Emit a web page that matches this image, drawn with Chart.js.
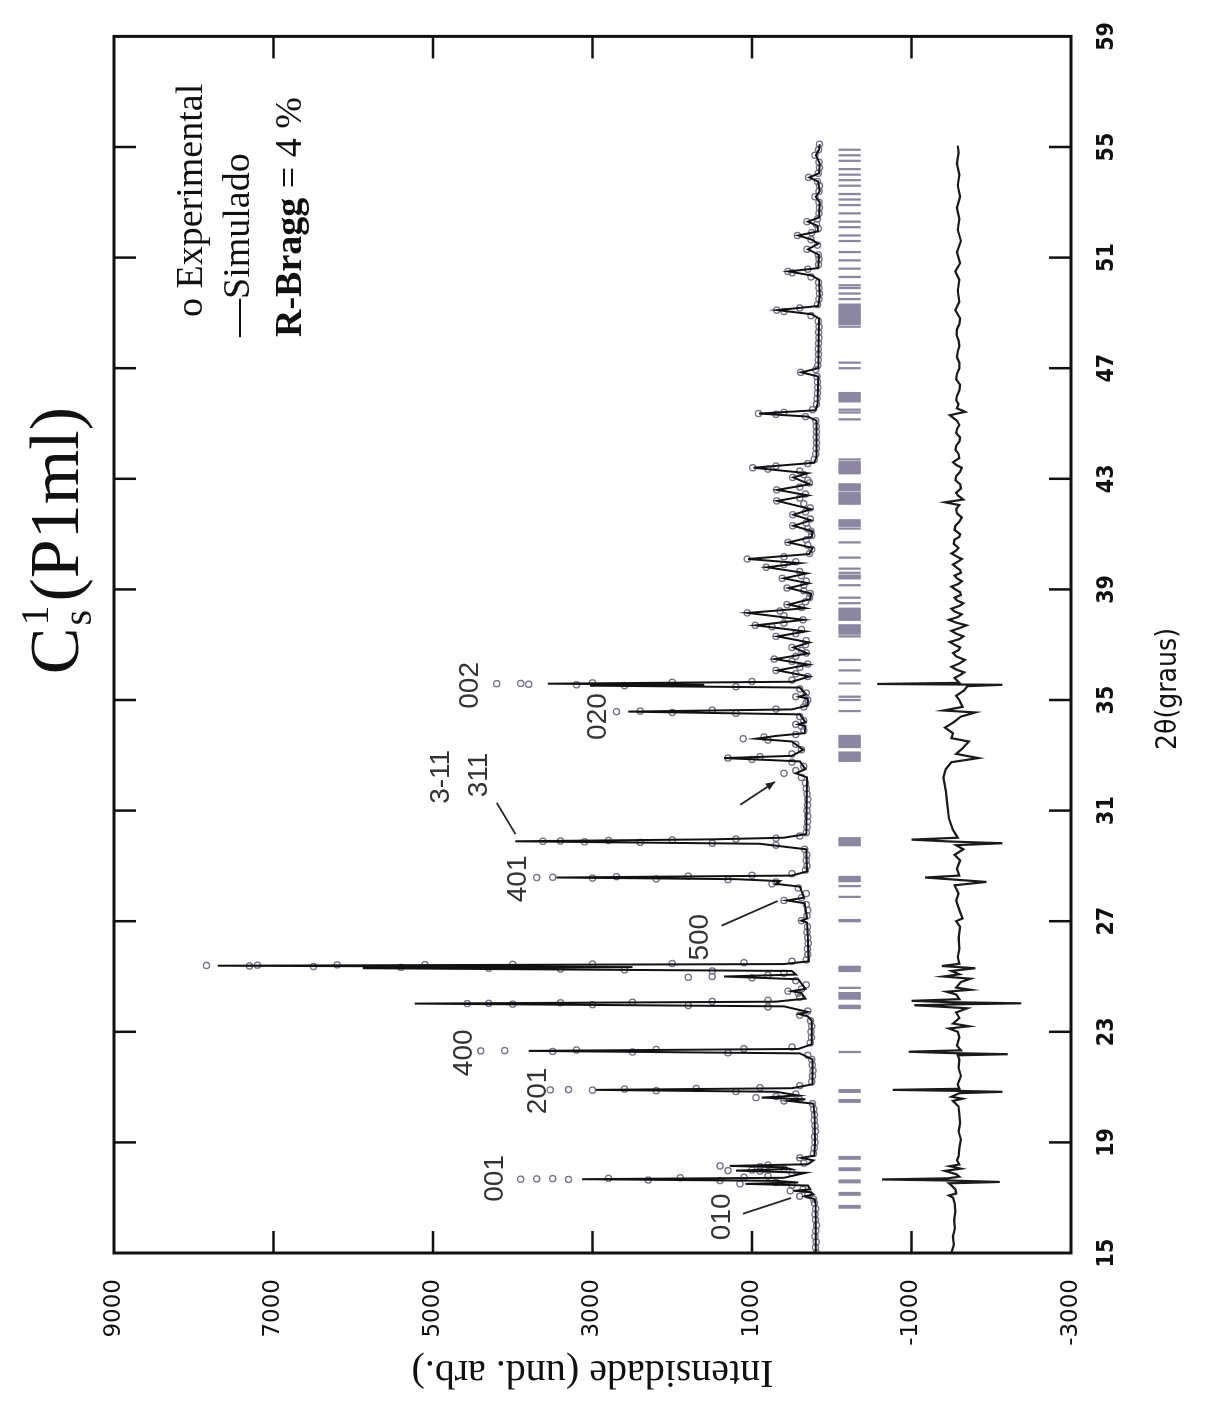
<!DOCTYPE html>
<html>
<head>
<meta charset="utf-8">
<title>Cs1 (P1ml) – refinamento</title>
<script src="https://cdn.jsdelivr.net/npm/chart.js@4.4.1/dist/chart.umd.min.js"></script>
<style>
  html, body { margin: 0; padding: 0; background: #fff; }
  body { width: 1210px; height: 1404px; position: relative; overflow: hidden; }
  /* the figure is laid out landscape and turned a quarter turn counter-clockwise */
  #stage { position: absolute; left: -97px; top: 97px; width: 1404px; height: 1210px;
           transform: rotate(-90deg); transform-origin: 50% 50%; background: #fff; }
  canvas { display: block; }
</style>
</head>
<body>
<div id="stage"><canvas id="c" width="1404" height="1210"></canvas></div>
<script>
// 2θ tick labels and intensity tick labels
const xTicks = [15, 19, 23, 27, 31, 35, 39, 43, 47, 51, 55, 59];
const yTicks = [-3000, -1000, 1000, 3000, 5000, 7000, 9000];

// observed pattern: [2θ, intensity]
const experimental = [
  [15.00,190],[15.20,205],[15.40,195],[15.60,210],[15.80,200],[16.00,190],[16.20,205],[16.40,210],[16.60,200],[16.80,215],
  [16.95,230],[17.05,400],[17.10,300],[17.25,520],[17.30,360],[17.45,500],[17.50,1150],[17.55,700],
  [17.62,1400],[17.64,2300],[17.66,3300],[17.67,3900],[17.68,3700],[17.69,3500],[17.70,2800],[17.72,1900],[17.74,1100],[17.78,800],
  [17.90,500],[17.96,900],[17.98,1300],[18.00,1000],[18.05,600],[18.12,900],[18.15,1400],[18.18,800],[18.25,350],[18.44,400],
  [18.60,230],[18.80,220],[19.00,210],[19.20,215],[19.40,205],[19.60,210],[19.80,220],[20.00,215],[20.20,225],[20.40,240],
  [20.50,600],[20.55,400],[20.62,950],[20.66,700],[20.75,450],
  [20.84,1200],[20.87,2200],[20.89,3000],[20.90,3530],[20.91,3300],[20.93,2600],[20.95,1700],[20.98,900],[21.05,400],
  [21.20,250],[21.40,240],[21.60,235],[21.80,245],[22.00,250],[22.15,300],
  [22.24,1300],[22.27,2500],[22.29,3500],[22.31,4400],[22.32,4100],[22.34,3200],[22.36,2200],[22.39,1100],[22.45,500],
  [22.60,270],[22.80,255],[23.00,260],[23.20,250],[23.40,265],[23.60,400],[23.75,300],
  [23.90,800],[23.95,1800],[23.98,3000],[24.00,4000],[24.02,4570],[24.03,4300],[24.05,3400],[24.07,2500],[24.10,1500],[24.14,800],
  [24.25,400],[24.40,420],[24.47,550],[24.55,380],[24.70,320],[24.85,450],[24.95,1000],[24.97,1800],[25.00,1500],[25.05,800],[25.12,600],
  [25.20,1500],[25.24,2600],[25.27,3400],[25.30,4300],[25.33,5400],[25.36,6500],[25.38,7300],[25.40,7840],[25.41,7200],[25.42,6200],
  [25.43,5100],[25.44,4000],[25.45,3000],[25.47,2000],[25.50,1100],[25.55,500],
  [25.60,320],[25.80,300],[26.00,305],[26.20,295],[26.40,300],[26.60,310],[26.80,305],[27.02,380],[27.20,310],[27.40,300],
  [27.60,320],[27.75,600],[27.85,380],[28.00,320],[28.20,420],[28.35,750],[28.42,700],
  [28.50,1300],[28.53,2200],[28.56,3000],[28.58,3700],[28.59,3500],[28.61,2700],[28.63,1800],[28.66,1000],[28.72,500],
  [28.85,330],[29.00,310],[29.20,320],[29.40,315],[29.60,340],[29.75,700],
  [29.82,1500],[29.85,2400],[29.87,3100],[29.89,3620],[29.90,3400],[29.92,2800],[29.94,2000],[29.97,1200],[30.00,700],[30.08,400],
  [30.20,320],[30.40,310],[30.60,305],[30.80,300],[31.00,310],[31.20,305],[31.40,300],[31.60,310],[31.80,320],[32.00,330],
  [32.20,380],[32.35,600],[32.45,450],[32.60,350],[32.75,500],[32.85,1000],[32.90,1300],[32.95,900],[33.05,500],[33.20,380],
  [33.40,450],[33.55,800],[33.60,1110],[33.66,850],[33.75,450],[33.90,350],[34.05,380],[34.12,450],[34.25,350],[34.40,400],
  [34.52,1200],[34.55,2000],[34.58,2700],[34.60,2400],[34.63,1500],[34.67,700],[34.75,350],[34.90,320],[35.00,300],[35.12,450],
  [35.25,320],[35.40,400],
  [35.48,1200],[35.52,2600],[35.55,3200],[35.57,3800],[35.59,4200],[35.60,3900],[35.62,3000],[35.64,2000],[35.67,1000],[35.72,500],
  [35.85,300],[35.95,450],[36.07,700],[36.18,400],[36.30,300],[36.40,500],[36.48,720],[36.58,450],[36.70,320],[36.80,380],
  [36.90,500],[37.00,330],[37.15,320],[37.30,700],[37.40,450],[37.55,380],[37.65,750],[37.70,960],[37.78,600],[37.90,360],
  [38.05,600],[38.15,1060],[38.22,650],[38.35,380],[38.45,560],[38.55,330],[38.70,280],[38.85,270],[38.95,350],[39.05,560],
  [39.15,350],[39.30,320],[39.40,620],[39.50,380],[39.65,400],[39.80,820],[39.90,600],[40.00,450],[40.10,1060],[40.18,600],
  [40.30,280],[40.45,250],[40.60,300],[40.70,550],[40.80,320],[40.95,250],[41.10,260],[41.20,300],[41.30,490],[41.40,320],
  [41.55,270],[41.70,490],[41.80,330],[41.95,270],[42.10,350],[42.20,690],[42.30,400],[42.45,330],[42.60,690],[42.70,400],
  [42.85,280],[42.95,300],[43.05,490],[43.15,350],[43.28,400],[43.35,800],[43.40,990],[43.46,700],[43.55,300],[43.70,220],
  [43.90,200],[44.10,195],[44.30,190],[44.50,195],[44.70,190],[44.90,195],[45.10,200],[45.25,330],[45.33,700],[45.36,920],
  [45.40,600],[45.50,240],[45.70,190],[45.90,185],[46.10,180],[46.30,175],[46.50,180],[46.70,185],[46.85,390],[46.95,200],
  [47.10,175],[47.30,170],[47.50,165],[47.70,170],[47.90,165],[48.10,160],[48.30,165],[48.50,160],[48.70,170],[48.90,260],
  [49.05,600],[49.10,690],[49.18,400],[49.30,180],[49.50,160],[49.70,155],[49.90,160],[50.10,165],[50.30,260],[50.45,500],
  [50.50,550],[50.58,300],[50.75,165],[50.95,160],[51.10,170],[51.30,310],[51.45,180],[51.65,260],[51.80,430],[51.90,250],
  [52.05,170],[52.20,190],[52.30,310],[52.40,180],[52.60,160],[52.80,155],[53.00,160],[53.20,210],[53.40,160],[53.60,155],
  [53.75,180],[53.90,290],[54.05,170],[54.25,155],[54.45,160],[54.70,210],[54.90,165],[55.10,155]
];

// calculated profile: [2θ, intensity]
const simulado = [
  [15.00,200],[16.00,200],[16.80,205],
  [16.95,215],[17.05,340],[17.12,230],[17.20,260],[17.25,480],[17.30,270],
  [17.44,300],[17.50,1080],[17.55,420],[17.61,700],[17.67,3130],[17.72,600],
  [17.90,330],[17.98,1200],[18.04,520],[18.10,600],[18.15,1280],[18.21,300],
  [18.35,230],[18.44,380],[18.52,220],
  [19.00,210],[20.00,215],[20.40,230],[20.50,540],[20.56,330],[20.62,880],[20.70,420],
  [20.83,700],[20.90,2960],[20.96,500],[21.10,240],
  [22.00,240],[22.22,400],[22.31,3800],[22.38,420],[22.55,250],
  [23.40,250],[23.56,300],[23.64,410],[23.72,300],
  [23.92,600],[24.02,5230],[24.09,700],[24.20,330],[24.40,380],[24.47,500],[24.55,330],
  [24.90,420],[25.00,1350],[25.07,450],[25.20,500],[25.30,5880],[25.34,2500],[25.39,7700],[25.45,600],[25.55,290],
  [26.50,300],[26.95,310],[27.02,380],[27.10,310],
  [27.65,340],[27.75,560],[27.85,350],
  [28.25,400],[28.35,700],[28.45,650],[28.52,1200],[28.58,3450],[28.65,500],[28.80,310],
  [29.60,320],[29.80,900],[29.89,3970],[29.96,1500],[30.02,600],[30.15,320],
  [32.20,310],[32.35,450],[32.50,330],
  [32.78,400],[32.90,1350],[32.98,500],[33.20,360],
  [33.50,500],[33.60,950],[33.70,700],[33.80,340],
  [34.05,330],[34.12,420],[34.20,330],
  [34.48,400],[34.58,2550],[34.66,500],[34.80,300],
  [35.05,300],[35.12,410],[35.20,320],
  [35.45,400],[35.52,3030],[35.55,1600],[35.59,3560],[35.66,500],[35.85,280],
  [36.07,680],[36.28,290],[36.48,710],[36.68,300],[36.90,480],[37.08,280],[37.30,680],[37.48,330],
  [37.70,950],[37.90,350],[38.15,1050],[38.32,330],[38.45,540],[38.65,270],[38.85,260],[39.05,540],
  [39.22,290],[39.40,600],[39.58,310],[39.80,810],[39.95,400],[40.10,1050],[40.28,280],[40.50,240],
  [40.70,540],[40.90,250],[41.10,240],[41.30,480],[41.50,260],[41.70,480],[41.90,260],[42.20,680],
  [42.40,300],[42.60,680],[42.80,280],[43.05,480],[43.20,300],[43.40,980],[43.58,220],[43.80,190],
  [45.10,190],[45.25,300],[45.36,910],[45.48,200],[45.70,180],
  [46.70,170],[46.85,380],[47.00,170],
  [48.80,160],[48.95,250],[49.10,680],[49.25,170],[49.60,150],[50.20,160],[50.35,250],[50.50,540],[50.62,170],
  [51.10,160],[51.30,300],[51.50,170],[51.65,250],[51.80,420],[51.95,170],[52.15,180],[52.30,300],[52.45,160],
  [53.00,150],[53.20,200],[53.40,150],[53.75,170],[53.90,280],[54.05,160],[54.40,150],[54.70,200],[54.90,160],[55.10,150]
];

// observed minus calculated, drawn with an offset below the pattern
const diferenca = [
  [15.00,-1500],[15.30,-1530],[15.60,-1520],[15.90,-1545],[16.20,-1535],[16.50,-1550],[16.80,-1540],[17.00,-1520],
  [17.08,-1470],[17.15,-1560],[17.30,-1550],[17.45,-1500],[17.52,-1470],[17.57,-2107],[17.62,-1500],[17.66,-630],
  [17.70,-1450],[17.76,-1600],[17.85,-1560],[17.97,-1420],[18.05,-1620],[18.14,-1480],[18.20,-1600],[18.35,-1570],
  [18.50,-1590],[18.80,-1600],[19.10,-1620],[19.40,-1590],[19.70,-1610],[20.00,-1600],[20.30,-1590],[20.50,-1520],
  [20.58,-1640],[20.65,-1500],[20.78,-1600],[20.83,-2140],[20.87,-1450],[20.90,-765],[20.94,-1600],[21.10,-1580],
  [21.40,-1620],[21.70,-1590],[22.00,-1600],[22.15,-1580],[22.19,-2208],[22.23,-1500],[22.28,-966],[22.33,-1620],
  [22.50,-1570],[22.80,-1600],[23.00,-1580],[23.12,-1470],[23.20,-1720],[23.30,-1520],[23.50,-1600],[23.70,-1560],
  [23.85,-1700],[23.92,-1300],[23.96,-1034],[24.00,-1700],[24.03,-2376],[24.07,-1500],[24.12,-1000],[24.18,-1600],
  [24.35,-1560],[24.45,-1440],[24.52,-1740],[24.60,-1560],[24.80,-1620],[24.92,-1740],[25.00,-1400],[25.08,-1600],
  [25.20,-1500],[25.30,-1800],[25.38,-1380],[25.46,-1600],[25.70,-1580],[26.00,-1600],[26.40,-1590],[26.80,-1610],
  [27.00,-1560],[27.10,-1640],[27.40,-1600],[27.75,-1560],[28.00,-1590],[28.30,-1540],[28.42,-1940],[28.50,-1560],
  [28.58,-1170],[28.65,-1600],[28.90,-1570],[29.20,-1610],[29.40,-1540],[29.60,-1650],[29.75,-1560],[29.82,-2140],
  [29.88,-1500],[29.95,-1000],[30.02,-1580],[30.30,-1520],[30.70,-1470],[31.20,-1450],[31.70,-1430],[32.20,-1400],
  [32.50,-1430],[32.75,-1500],[32.90,-1840],[33.05,-1560],[33.25,-1640],[33.50,-1720],[33.62,-1500],[33.80,-1520],
  [34.00,-1420],[34.20,-1530],[34.40,-1620],[34.55,-1800],[34.62,-1400],[34.75,-1640],[35.00,-1600],[35.15,-1560],
  [35.35,-1660],[35.50,-1700],[35.55,-2140],[35.58,-570],[35.62,-1600],[35.80,-1540],[35.92,-1620],[36.00,-1660],
  [36.10,-1560],[36.20,-1500],[36.32,-1600],[36.45,-1670],[36.58,-1560],[36.70,-1520],[36.80,-1590],[36.90,-1610],
  [37.00,-1540],[37.10,-1480],[37.20,-1600],[37.30,-1650],[37.40,-1560],[37.50,-1500],[37.60,-1600],[37.70,-1690],
  [37.80,-1560],[37.90,-1470],[38.00,-1580],[38.10,-1630],[38.20,-1540],[38.30,-1500],[38.40,-1600],[38.50,-1650],
  [38.60,-1570],[38.70,-1540],[38.80,-1620],[38.90,-1610],[39.00,-1550],[39.10,-1500],[39.20,-1590],[39.30,-1630],
  [39.40,-1570],[39.50,-1540],[39.60,-1620],[39.70,-1610],[39.80,-1560],[39.90,-1520],[40.00,-1580],[40.10,-1630],
  [40.20,-1560],[40.30,-1500],[40.40,-1560],[40.50,-1590],[40.65,-1530],[40.80,-1540],[40.90,-1600],[41.00,-1610],
  [41.15,-1540],[41.30,-1550],[41.45,-1600],[41.60,-1630],[41.75,-1570],[41.90,-1560],[42.05,-1600],[42.15,-1420],
  [42.25,-1650],[42.40,-1580],[42.50,-1560],[42.65,-1620],[42.80,-1610],[42.95,-1550],[43.10,-1560],[43.25,-1610],
  [43.40,-1630],[43.50,-1560],[43.60,-1520],[43.75,-1600],[43.90,-1590],[44.05,-1550],[44.20,-1560],[44.35,-1600],
  [44.50,-1610],[44.65,-1560],[44.80,-1570],[44.95,-1600],[45.10,-1570],[45.30,-1480],[45.42,-1670],[45.55,-1570],
  [45.70,-1590],[45.85,-1560],[46.00,-1570],[46.20,-1600],[46.40,-1610],[46.60,-1560],[46.80,-1570],[47.00,-1600],
  [47.20,-1600],[47.40,-1570],[47.60,-1580],[47.80,-1600],[48.00,-1590],[48.20,-1565],[48.40,-1570],[48.60,-1600],
  [48.80,-1610],[49.10,-1550],[49.40,-1600],[49.80,-1580],[50.20,-1600],[50.50,-1550],[50.80,-1610],[51.20,-1570],
  [51.60,-1620],[52.00,-1580],[52.40,-1600],[52.80,-1570],[53.20,-1610],[53.60,-1580],[54.00,-1600],[54.40,-1570],
  [54.80,-1590],[55.05,-1580]
];

// Bragg reflection positions (2θ) and the band they are drawn in
const braggPos = [
  16.64,16.70,17.11,17.17,17.56,17.62,18.00,18.06,18.41,18.47,
  20.47,20.53,20.83,20.89,22.27,
  23.86,23.90,23.94,24.20,24.25,24.30,24.35,24.40,24.59,
  25.20,25.25,25.30,25.35,
  27.00,27.04,27.88,28.27,28.45,28.50,28.55,28.60,
  29.75,29.80,29.85,29.90,29.95,30.00,
  32.80,32.85,32.90,32.95,33.00,33.05,33.10,
  33.30,33.35,33.40,33.45,33.50,33.55,33.60,33.65,33.70,
  34.60,35.00,35.12,35.60,36.07,36.45,37.30,
  37.40,37.45,37.50,37.55,37.60,37.65,37.70,
  37.90,37.95,38.00,38.05,38.10,38.15,38.20,38.25,38.30,
  38.50,38.70,39.15,39.40,39.45,39.50,39.60,
  39.75,40.15,40.70,41.20,41.30,41.35,41.40,41.45,41.50,
  42.10,42.15,42.20,42.25,42.30,42.35,42.40,42.45,42.50,
  42.60,42.65,42.70,42.75,42.80,
  43.20,43.25,43.30,43.35,43.40,43.45,43.50,43.55,43.60,43.70,
  45.15,45.40,45.50,45.80,45.85,45.90,45.95,46.00,46.05,46.10,
  47.00,47.20,48.50,48.60,48.65,48.70,48.75,48.80,48.85,48.90,48.95,49.00,49.05,49.10,49.15,49.20,49.25,49.30,
  49.50,49.70,49.90,
  50.00,50.30,50.60,50.90,51.20,51.60,51.80,52.10,52.30,52.60,52.90,53.10,53.30,53.60,53.80,54.00,54.20,54.50,54.70,54.90
];
const braggBand = [-360, -90];

// Miller-index annotations: [text, 2θ, intensity] (text centre)
const peakLabels = [
  ['010', 16.31, 1376], ['001', 17.70, 4223], ['201', 20.86, 3683], ['400', 22.24, 4611],
  ['500', 26.42, 1652], ['401', 28.53, 3934], ['3-11', 32.22, 4900], ['311', 32.29, 4423],
  ['020', 34.40, 2931], ['002', 35.53, 4536]
];
// leader lines: [2θ from, I from, 2θ to, I to, arrow head]
const leaders = [
  [16.42, 1114, 16.99, 510, false],
  [26.84, 1382, 27.73, 678, false],
  [31.28, 4201, 30.15, 3966, false],
  [31.21, 1148, 32.04, 711, true]
];

const serif = '"Liberation Serif", "DejaVu Serif", serif';
const sans = '"Liberation Sans", Arial, sans-serif';
const narrow = '"Liberation Sans Narrow", "DejaVu Sans Condensed", sans-serif';

const pts = arr => arr.map(([x, y]) => ({ x, y }));

const decor = {
  id: 'decor',
  afterDraw(chart) {
    const ctx = chart.ctx, a = chart.chartArea;
    const xs = chart.scales.x, ys = chart.scales.y;
    ctx.save();
    ctx.strokeStyle = '#111'; ctx.fillStyle = '#111';

    // inward tick marks on all four sides
    ctx.lineWidth = 2.5;
    const tl = 22;
    xTicks.slice(1, -1).forEach(v => {
      const px = xs.getPixelForValue(v);
      ctx.beginPath();
      ctx.moveTo(px, a.bottom); ctx.lineTo(px, a.bottom - tl);
      ctx.moveTo(px, a.top); ctx.lineTo(px, a.top + tl);
      ctx.stroke();
    });
    yTicks.slice(1, -1).forEach(v => {
      const py = ys.getPixelForValue(v);
      ctx.beginPath();
      ctx.moveTo(a.left, py); ctx.lineTo(a.left + tl, py);
      ctx.moveTo(a.right, py); ctx.lineTo(a.right - tl, py);
      ctx.stroke();
    });
    // frame
    ctx.lineWidth = 3;
    ctx.strokeRect(a.left, a.top, a.right - a.left, a.bottom - a.top);

    // peak annotations
    ctx.font = '28px ' + sans;
    ctx.textAlign = 'center'; ctx.textBaseline = 'middle';
    ctx.fillStyle = '#333';
    peakLabels.forEach(([t, x, y]) => ctx.fillText(t, xs.getPixelForValue(x), ys.getPixelForValue(y)));
    ctx.strokeStyle = '#222'; ctx.lineWidth = 1.8;
    leaders.forEach(([x1, y1, x2, y2, head]) => {
      const p1 = [xs.getPixelForValue(x1), ys.getPixelForValue(y1)];
      const p2 = [xs.getPixelForValue(x2), ys.getPixelForValue(y2)];
      ctx.beginPath(); ctx.moveTo(p1[0], p1[1]); ctx.lineTo(p2[0], p2[1]); ctx.stroke();
      if (head) {
        const ang = Math.atan2(p2[1] - p1[1], p2[0] - p1[0]);
        ctx.beginPath();
        ctx.moveTo(p2[0], p2[1]);
        ctx.lineTo(p2[0] - 10 * Math.cos(ang - 0.4), p2[1] - 10 * Math.sin(ang - 0.4));
        ctx.lineTo(p2[0] - 10 * Math.cos(ang + 0.4), p2[1] - 10 * Math.sin(ang + 0.4));
        ctx.closePath(); ctx.fillStyle = '#222'; ctx.fill();
      }
    });

    // title: C with stacked 1 / s, then (P1ml)
    ctx.fillStyle = '#111';
    ctx.textAlign = 'left'; ctx.textBaseline = 'alphabetic';
    const tRight = 997, tBase = 78;
    ctx.font = '70px ' + serif;
    const main = '(P1ml)';
    const wMain = ctx.measureText(main).width;
    const xMain = tRight - wMain;
    ctx.fillText(main, xMain, tBase);
    ctx.font = '40px ' + serif;
    const wSS = Math.max(ctx.measureText('1').width, ctx.measureText('s').width);
    const xSS = xMain - wSS - 4;
    ctx.fillText('1', xSS, tBase - 30);
    ctx.fillText('s', xSS, tBase + 13);
    ctx.font = '70px ' + serif;
    ctx.fillText('C', xSS - ctx.measureText('C').width - 2, tBase);

    // key
    ctx.font = '38px ' + serif;
    ctx.fillText('o Experimental', 1087, 202);
    ctx.fillText('\u2014Simulado', 1067, 249);
    ctx.font = 'bold 38px ' + serif;
    ctx.fillText('R-Bragg', 1067, 301);
    const wRB = ctx.measureText('R-Bragg').width;
    ctx.font = '38px ' + serif;
    ctx.fillText(' = 4 %', 1067 + wRB, 301);

    // axis titles
    ctx.font = '28px ' + narrow;
    ctx.textAlign = 'center';
    ctx.fillText('2\u03B8(graus)', 715, 1176);
    ctx.save();
    ctx.translate(32, (a.top + a.bottom) / 2);
    ctx.rotate(-Math.PI / 2);
    ctx.font = '40px ' + serif;
    ctx.textBaseline = 'middle';
    ctx.fillText('Intensidade (und. arb.)', 0, 0);
    ctx.restore();
    ctx.restore();
  }
};

new Chart(document.getElementById('c'), {
  type: 'scatter',
  data: {
    datasets: [
      {
        type: 'line', label: 'Simulado', data: pts(simulado), order: 0,
        borderColor: '#111', borderWidth: 2, pointRadius: 0, tension: 0, fill: false
      },
      {
        type: 'scatter', label: 'Experimental', data: pts(experimental), order: 1,
        pointStyle: 'circle', pointRadius: 3.1, borderWidth: 1.3,
        borderColor: '#75718a', backgroundColor: 'rgba(255,255,255,0)'
      },
      {
        type: 'line', label: 'Diferença', data: pts(diferenca), order: 2,
        borderColor: '#1a1a1a', borderWidth: 2.2, pointRadius: 0, tension: 0, fill: false
      },
      {
        type: 'bar', label: 'Bragg', order: 3,
        data: braggPos.map(p => ({ x: p, y: braggBand.slice() })),
        barThickness: 1.6, backgroundColor: '#8d86a2', borderWidth: 0, grouped: false
      }
    ]
  },
  options: {
    responsive: false,
    animation: false,
    events: [],
    layout: { padding: { top: 114, right: 14, left: 0, bottom: 0 } },
    plugins: { legend: { display: false }, tooltip: { enabled: false }, title: { display: false } },
    scales: {
      x: {
        type: 'linear', min: 15, max: 59, offset: false,
        afterBuildTicks: s => { s.ticks = xTicks.map(v => ({ value: v })); },
        afterFit: s => { s.height = 139; },
        grid: { display: false, drawTicks: false }, border: { display: false },
        ticks: { autoSkip: false, maxRotation: 0, minRotation: 0, padding: 22, color: '#111',
                 font: { family: narrow, size: 23, weight: 'bold' }, callback: v => String(v) }
      },
      y: {
        type: 'linear', min: -3000, max: 9000,
        afterBuildTicks: s => { s.ticks = yTicks.map(v => ({ value: v })); },
        afterFit: s => { s.width = 151; },
        grid: { display: false, drawTicks: false }, border: { display: false },
        ticks: { padding: 26, color: '#111', font: { family: '"DejaVu Sans", sans-serif', size: 23 },
                 callback: v => String(v) }
      }
    }
  },
  plugins: [decor]
});
</script>
</body>
</html>
